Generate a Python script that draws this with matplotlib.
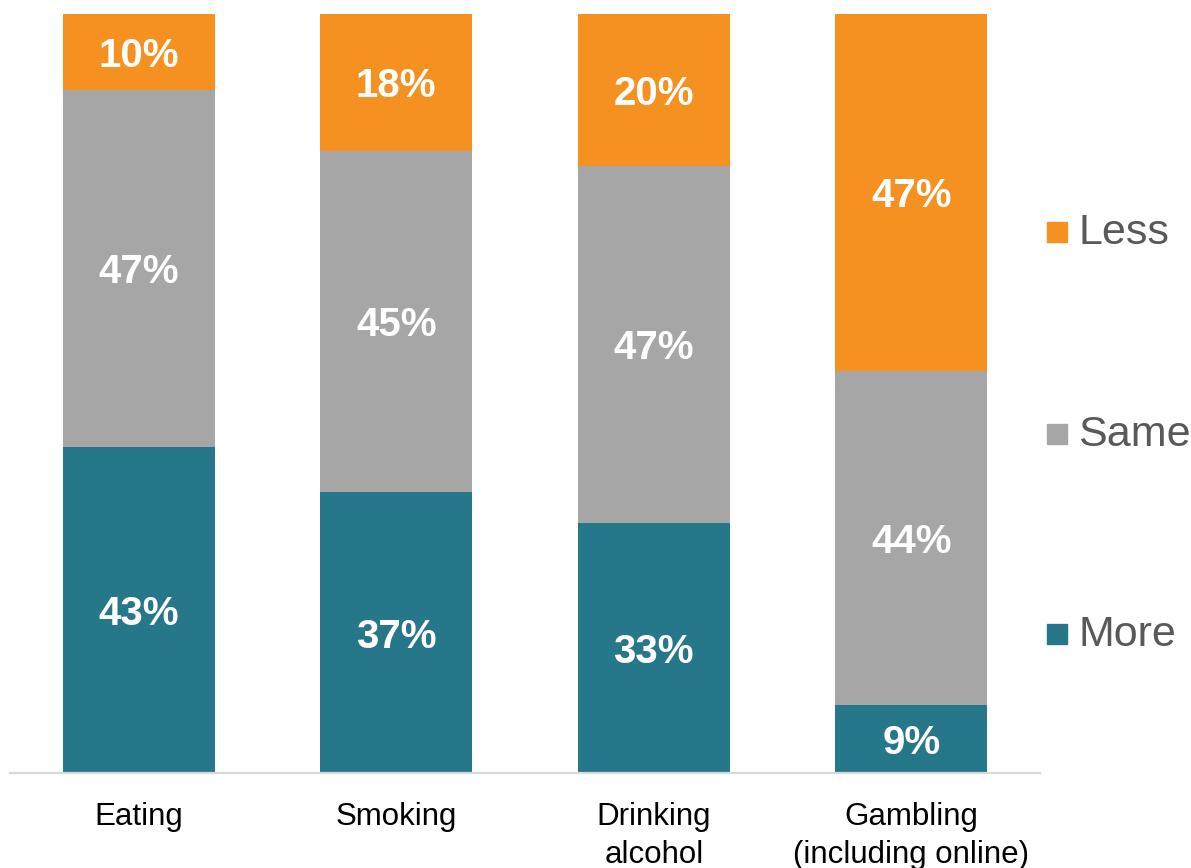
import matplotlib
matplotlib.use("Agg")
import matplotlib.pyplot as plt
from matplotlib.patches import Rectangle

plt.rcParams['font.family'] = ['Liberation Sans', 'DejaVu Sans']

categories = ["Eating", "Smoking", "Drinking\nalcohol", "Gambling\n(including online)"]
series_names = ["More", "Same", "Less"]
more = [43, 37, 33, 9]
same = [47, 45, 47, 44]
less = [10, 18, 20, 47]
colors = {"More": "#26778A", "Same": "#A6A6A6", "Less": "#F49120"}

fig = plt.figure(figsize=(11.91, 8.68), dpi=100)
ax = fig.add_axes([10 / 1191, 95 / 868, 1030 / 1191, 759 / 868])

x = list(range(len(categories)))
bottom = [0] * len(categories)
for name, vals in zip(series_names, [more, same, less]):
    ax.bar(x, vals, width=0.59, bottom=bottom, color=colors[name],
           edgecolor="none", label=name)
    for xi, b, v in zip(x, bottom, vals):
        ax.text(xi, b + v / 2, f"{v}%", ha="center", va="center_baseline",
                color="white", fontsize=29, fontweight="bold")
    bottom = [b + v for b, v in zip(bottom, vals)]

ax.set_xlim(-0.5, 3.5)
ax.set_ylim(0, 100)
ax.set_yticks([])
ax.set_xticks(x)
ax.set_xticklabels(categories, fontsize=22.5, color="black", linespacing=1.33)
ax.tick_params(axis="x", length=0, pad=21)
for s in ["left", "right", "top"]:
    ax.spines[s].set_visible(False)
ax.spines["bottom"].set_color("#D9D9D9")
ax.spines["bottom"].set_linewidth(1.6)

# legend drawn at the right, top entry first
legend_y = {"Less": 232, "Same": 434, "More": 634}
for name in ["Less", "Same", "More"]:
    yc = 868 - legend_y[name]
    fig.add_artist(Rectangle((1047 / 1191, (yc - 10) / 868), 20 / 1191, 20 / 868,
                             transform=fig.transFigure, color=colors[name]))
    fig.text(1078 / 1191, (yc + 3) / 868, name, fontsize=31, color="#595959",
             ha="left", va="center_baseline")

fig.savefig("out.png", dpi=100)
